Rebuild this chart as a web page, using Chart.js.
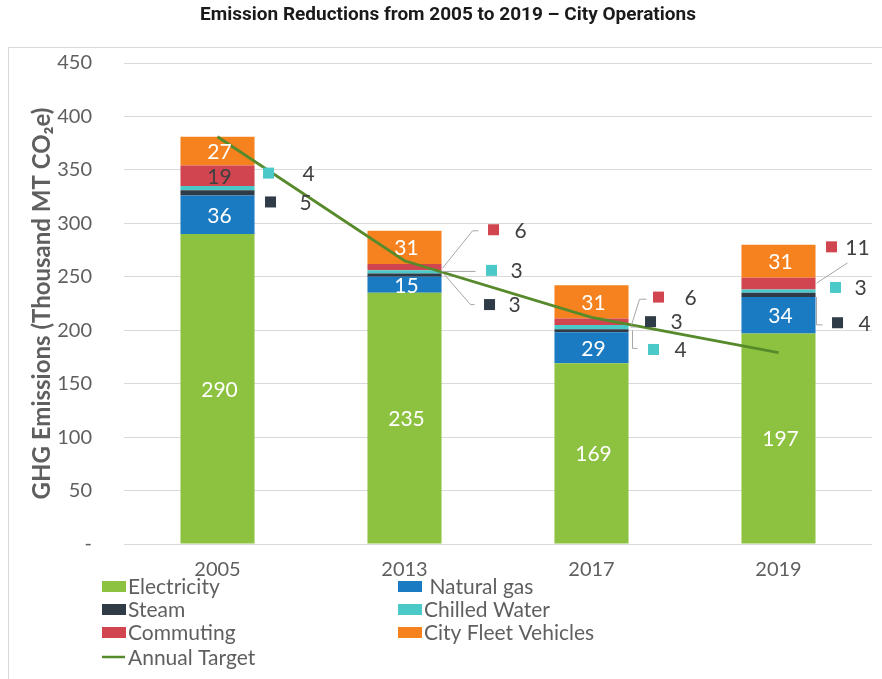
<!DOCTYPE html>
<html>
<head>
<meta charset="utf-8">
<script src="https://cdn.jsdelivr.net/npm/chart.js@4/dist/chart.umd.min.js"></script>
<style>
    html, body { margin: 0; padding: 0; background: #fff; }
    #wrap { width: 882px; height: 679px; position: relative; }
</style>
</head>
<body>
<div id="wrap"><canvas id="chart"></canvas></div>
<script>
// データ（千MT CO2e）
const years = ['2005', '2013', '2017', '2019'];
const electricity = [290, 235, 169, 197];
const naturalGas = [36, 15, 29, 34];
const steam = [5, 3, 3, 4];
const chilledWater = [4, 3, 4, 3];
const commuting = [19, 6, 6, 11];
const cityFleet = [27, 31, 31, 31];
const annualTarget = [381, 265, 212, 179];
const yTickValues = [0, 50, 100, 150, 200, 250, 300, 350, 400, 450];

const seriesNames = ['Electricity', 'Natural gas', 'Steam', 'Chilled Water', 'Commuting', 'City Fleet Vehicles'];
const seriesData = [electricity, naturalGas, steam, chilledWater, commuting, cityFleet];
const seriesColors = ['#8cc23f', '#1b7bc2', '#2f3b47', '#4bc8c8', '#d0454f', '#f5821f'];
const targetColor = '#568a2a';

const FONT = 'Lato, "Open Sans", sans-serif';
const GRAY = '#5f5f5f';

// 小さい値の吹き出し（縦は軸の値、横は棒の右端からのpx）
const callouts = [
    { ds: 3, i: 0, at: 347, mdx: 14, tdx: 54 },
    { ds: 2, i: 0, at: 320, mdx: 16, tdx: 51 },
    { ds: 4, i: 1, at: 294, mdx: 52, tdx: 79, leader: [[1, 258], [31, 293], [37, 293]] },
    { ds: 3, i: 1, at: 256, mdx: 50, tdx: 75, leader: [[0, 255], [34, 255]] },
    { ds: 2, i: 1, at: 224, mdx: 48, tdx: 73, leader: [[2, 253], [29, 224], [33, 224]] },
    { ds: 4, i: 2, at: 231, mdx: 30, tdx: 62, leader: [[3, 205], [11, 229], [18, 229]] },
    { ds: 2, i: 2, at: 208, mdx: 22, tdx: 48, leader: [[2, 203], [8, 203]] },
    { ds: 3, i: 2, at: 182, mdx: 25, tdx: 52, leader: [[4, 200], [4, 183], [9, 183]] },
    { ds: 4, i: 3, at: 278, mdx: 16, tdx: 42, leader: [[1, 244], [32, 263]] },
    { ds: 3, i: 3, at: 240, mdx: 20, tdx: 45 },
    { ds: 2, i: 3, at: 207, mdx: 22, tdx: 49, leader: [[1, 231], [1, 205], [7, 205]] }
];

const decorPlugin = {
    id: 'decor',
    beforeDraw(chart) {
        const ctx = chart.ctx;
        ctx.save();
        // 外枠
        ctx.strokeStyle = '#d9d9d9';
        ctx.lineWidth = 1;
        ctx.strokeRect(8.5, 47.5, 900, 700);
        // タイトル
        ctx.fillStyle = '#1a1a1a';
        ctx.font = 'bold 19px Roboto, sans-serif';
        ctx.textAlign = 'center';
        ctx.textBaseline = 'middle';
        ctx.fillText('Emission Reductions from 2005 to 2019 \u2013 City Operations', 448, 15);
        ctx.restore();
    },
    afterDatasetsDraw(chart) {
        const ctx = chart.ctx;
        const yScale = chart.scales.y;
        ctx.save();
        ctx.font = '21px ' + FONT;
        ctx.textAlign = 'center';
        ctx.textBaseline = 'middle';

        // 棒の中のラベル
        seriesData.forEach((arr, ds) => {
            const meta = chart.getDatasetMeta(ds);
            arr.forEach((v, i) => {
                if (v < 15) return;
                const bar = meta.data[i];
                ctx.fillStyle = ds === 4 ? '#404040' : '#ffffff';
                ctx.fillText(String(v), bar.x + 2, (bar.y + bar.base) / 2 + 1);
            });
        });

        // 吹き出しラベル
        callouts.forEach(c => {
            const bar = chart.getDatasetMeta(c.ds).data[c.i];
            const right = bar.x + bar.width / 2;
            if (c.leader) {
                ctx.strokeStyle = '#a6a6a6';
                ctx.lineWidth = 1;
                ctx.beginPath();
                c.leader.forEach(([dx, v], k) => {
                    const px = right + dx;
                    const py = yScale.getPixelForValue(v);
                    if (k === 0) ctx.moveTo(px, py); else ctx.lineTo(px, py);
                });
                ctx.stroke();
            }
            const py = yScale.getPixelForValue(c.at);
            ctx.fillStyle = seriesColors[c.ds];
            ctx.fillRect(right + c.mdx - 5.5, py - 5.5, 11, 11);
            ctx.fillStyle = '#404040';
            ctx.fillText(String(seriesData[c.ds][c.i]), right + c.tdx, py + 1);
        });
        ctx.restore();
    },
    afterDraw(chart) {
        // 凡例
        const ctx = chart.ctx;
        const bottom = chart.chartArea.bottom;
        const colX = [102, 398];
        const rowY = [42, 65, 88, 113].map(d => bottom + d);
        ctx.save();
        ctx.font = '21px ' + FONT;
        ctx.textAlign = 'left';
        ctx.textBaseline = 'middle';
        seriesNames.forEach((name, k) => {
            const x = colX[k % 2];
            const y = rowY[Math.floor(k / 2)];
            ctx.fillStyle = seriesColors[k];
            ctx.fillRect(x, y - 5, 24, 11);
            ctx.fillStyle = GRAY;
            ctx.fillText(k === 1 ? ' ' + name : name, x + 26, y + 1);
        });
        const y = rowY[3];
        ctx.strokeStyle = targetColor;
        ctx.lineWidth = 2.5;
        ctx.beginPath();
        ctx.moveTo(102, y);
        ctx.lineTo(125, y);
        ctx.stroke();
        ctx.fillStyle = GRAY;
        ctx.fillText('Annual Target', 128, y + 1);
        ctx.restore();
    }
};

const datasets = seriesNames.map((name, k) => ({
    type: 'bar',
    label: name,
    data: seriesData[k],
    backgroundColor: seriesColors[k],
    borderWidth: 0,
    categoryPercentage: 1,
    barPercentage: 0.396,
    order: 1
}));
datasets.push({
    type: 'line',
    label: 'Annual Target',
    data: annualTarget,
    borderColor: targetColor,
    borderWidth: 2.75,
    pointRadius: 0,
    tension: 0,
    fill: false,
    stack: 'target',
    order: 0
});

new Chart(document.getElementById('chart'), {
    data: { labels: years, datasets },
    options: {
        responsive: true,
        maintainAspectRatio: false,
        animation: false,
        layout: { padding: { left: 8, right: 10, top: 63, bottom: 0 } },
        plugins: {
            legend: { display: false },
            tooltip: { enabled: false },
            title: { display: false }
        },
        scales: {
            x: {
                stacked: true,
                grid: { display: false },
                border: { display: false },
                ticks: { color: GRAY, font: { family: FONT, size: 20 }, padding: 6 },
                afterFit(scale) { scale.height = 135; }
            },
            y: {
                stacked: true,
                min: 0,
                max: 450,
                border: { display: false },
                grid: { color: '#d9d9d9', drawTicks: false },
                afterBuildTicks(scale) { scale.ticks = yTickValues.map(v => ({ value: v })); },
                ticks: {
                    color: GRAY,
                    font: { family: FONT, size: 20 },
                    padding: 32,
                    callback: v => v === 0 ? '-' : String(v)
                },
                title: {
                    display: true,
                    text: 'GHG Emissions (Thousand MT CO\u2082e)',
                    color: GRAY,
                    font: { family: FONT, size: 24, weight: 'bold' },
                    padding: { top: 20, bottom: 0 }
                },
                afterFit(scale) { scale.width = 116; }
            }
        }
    },
    plugins: [decorPlugin]
});
</script>
</body>
</html>
